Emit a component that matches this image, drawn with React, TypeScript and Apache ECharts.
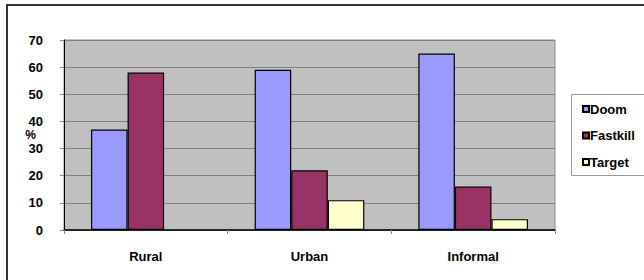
import React, { useEffect, useRef } from "react";
import * as echarts from "echarts";

const categories = ["Rural", "Urban", "Informal"];
const doom = [37, 59, 65];
const fastkill = [58, 22, 16];
const target: (number | null)[] = [null, 11, 4];
const yTicks = { min: 0, max: 70, interval: 10 };

const FONT = "'Liberation Sans', Arial, sans-serif";

export default function App() {
  const ref = useRef<HTMLDivElement>(null);
  useEffect(() => {
    if (!ref.current) return;
    const chart = echarts.init(ref.current, undefined, { renderer: "svg" });
    const barStyle = (color: string) => ({ color, borderColor: "#000", borderWidth: 1.2 });
    chart.setOption({
      animation: false,
      backgroundColor: "#fff",
      textStyle: { fontFamily: FONT },
      grid: {
        left: 64,
        top: 40,
        width: 491,
        height: 190,
        show: true,
        backgroundColor: "#C0C0C0",
        borderColor: "#8a8a8a",
        borderWidth: 1,
      },
      legend: {
        orient: "vertical",
        left: 582,
        top: 101.5,
        padding: 0,
        itemWidth: 6,
        itemHeight: 6,
        itemGap: 11.5,
        icon: "rect",
        textStyle: {
          fontFamily: FONT,
          fontWeight: "bold",
          fontSize: 13,
          color: "#000",
          lineHeight: 15,
          padding: [0, 0, 0, -4],
        },
        data: ["Doom", "Fastkill", "Target"],
      },
      xAxis: {
        type: "category",
        data: categories,
        axisLine: { show: true, lineStyle: { color: "#000", width: 1.5 } },
        axisTick: { show: true, length: 4, lineStyle: { color: "#888" } },
        axisLabel: {
          margin: 20,
          fontFamily: FONT,
          fontWeight: "bold",
          fontSize: 13,
          color: "#000",
        },
        splitLine: { show: false },
      },
      yAxis: {
        type: "value",
        min: yTicks.min,
        max: yTicks.max,
        interval: yTicks.interval,
        axisLine: { show: true, lineStyle: { color: "#000", width: 1 } },
        axisTick: { show: true, length: 4, lineStyle: { color: "#888" } },
        axisLabel: {
          margin: 21,
          fontFamily: FONT,
          fontWeight: "bold",
          fontSize: 13,
          lineHeight: 13,
          color: "#000",
        },
        splitLine: { show: true, lineStyle: { color: "#808080", width: 1 } },
      },
      series: [
        { name: "Doom", type: "bar", data: doom, barGap: "0%", barCategoryGap: "33%", itemStyle: barStyle("#9999FF") },
        { name: "Fastkill", type: "bar", data: fastkill, barGap: "0%", barCategoryGap: "33%", itemStyle: barStyle("#993366") },
        { name: "Target", type: "bar", data: target, barGap: "0%", barCategoryGap: "33%", itemStyle: barStyle("#FFFFCC") },
      ],
      graphic: [
        {
          type: "rect",
          shape: { x: 7, y: 5, width: 680, height: 320 },
          style: { fill: "none", stroke: "#333", lineWidth: 2 },
          silent: true,
          z: 100,
        },
        {
          type: "rect",
          shape: { x: 571.5, y: 94.5, width: 120, height: 81 },
          style: { fill: "#fff", stroke: "#999", lineWidth: 1 },
          silent: true,
          z: -1,
        },
        {
          type: "text",
          x: 30.5,
          y: 134.5,
          style: {
            text: "%",
            fontFamily: FONT,
            fontWeight: "bold",
            fontSize: 12,
            lineHeight: 12,
            fill: "#000",
            textAlign: "center",
            textVerticalAlign: "middle",
          },
        },
      ],
    });
    return () => chart.dispose();
  }, []);
  return (
    <div
      ref={ref}
      style={{ position: "fixed", left: 0, top: 0, width: 644, height: 280 }}
    />
  );
}
